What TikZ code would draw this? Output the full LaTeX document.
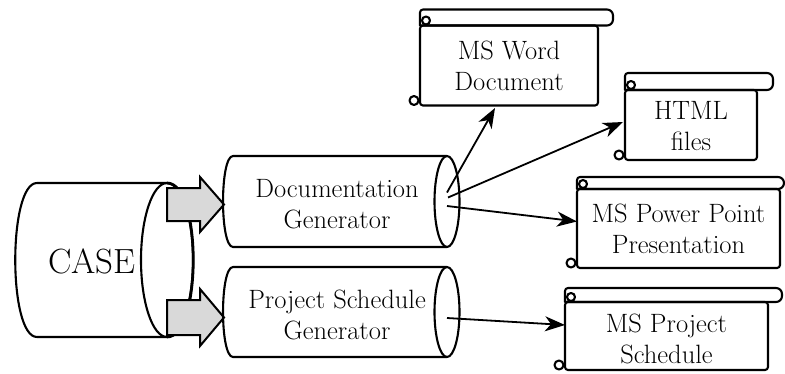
\documentclass[tikz,border=0pt]{standalone}
\usetikzlibrary{calc,arrows.meta}
\tikzset{
  outline/.style={line width=2.1pt, line join=round},
  txt/.style={align=center, font=\fontsize{26.5}{31}\selectfont, inner sep=0pt},
  docbody/.style={outline, draw, rounded corners=3pt, outer sep=0pt, inner sep=0pt,
                  align=center, font=\fontsize{26.5}{31}\selectfont},
  conn/.style={line width=1.8pt, -{Stealth[length=20pt,width=15pt,inset=6pt]}},
  blockarrow/.style={line width=2pt, draw=black, fill=gray!30, line join=miter},
}
% name, band height (px), right extension of the band (px)
\newcommand\scrollparts[3]{%
  \draw[outline] (#1.north west) [rounded corners=3pt] -- ($(#1.north west)+(0,-#2)$)
     [rounded corners=6pt] -- ($(#1.north east)+(#3,-#2)$) -- ($(#1.north east)+(#3,0)$)
     [sharp corners] -- (#1.north west) -- cycle;
  \draw[outline] ($(#1.north west)+(6,-5)$) circle[radius=4pt];
  \draw[outline] ($(#1.south west)+(-6,-5)$) circle[radius=4.5pt];
}
\newcommand\lowtext[2]{\raisebox{#1}[\height][\depth]{\begin{tabular}{@{}c@{}}#2\end{tabular}}}
\begin{document}
\begin{tikzpicture}[x=1pt,y=-1pt]
\useasboundingbox (0,0) rectangle (785,373);
\fill[white] (0,0) rectangle (785,373);

% CASE cylinder
\draw[outline] (167,183) -- (37,183) .. controls (8,183) and (8,337) .. (37,337) -- (167,337);
\draw[outline] (167,260) ellipse[x radius=26pt, y radius=77pt];
\draw[line width=2.8pt] (167,183) .. controls (202,183) and (202,337) .. (167,337);
\node[font=\fontsize{35}{40}\selectfont, inner sep=0pt] (case) at (92,261) {CASE};

% block arrows
\draw[blockarrow] (167,188) -- (200,188) -- (200,177) -- (224,204.5) -- (200,232) -- (200,221) -- (167,221) -- cycle;
\draw[blockarrow] (167,300) -- (200,300) -- (200,289) -- (224,317.5) -- (200,346) -- (200,335) -- (167,335) -- cycle;

% Documentation generator
\draw[outline] (447,156) -- (233,156) .. controls (219.7,156) and (219.7,247) .. (233,247) -- (447,247);
\draw[outline] (447,201.5) ellipse[x radius=12.5pt, y radius=45.5pt];
\coordinate (docR) at (447,201.5);
\node[txt] (docgen) at (337,204) {Documentation\\Generator};

% Project schedule generator
\draw[outline] (447,267) -- (233,267) .. controls (219.7,267) and (219.7,357) .. (233,357) -- (447,357);
\draw[outline] (447,312) ellipse[x radius=12.5pt, y radius=45pt];
\coordinate (projR) at (447,312);
\node[txt] (projgen) at (337,315) {Project Schedule\\Generator};

% documents
\node[docbody, minimum width=178pt, minimum height=80pt] (word) at (509,65.5) {MS Word\\Document};
\scrollparts{word}{16}{15}
\node[docbody, minimum width=132pt, minimum height=70pt] (html) at (691,125) {\lowtext{-4pt}{HTML\\files}};
\scrollparts{html}{17}{16}
\node[docbody, minimum width=203pt, minimum height=79pt] (pp) at (678.5,228.5) {MS Power Point\\Presentation};
\scrollparts{pp}{12}{4}
\node[docbody, minimum width=203pt, minimum height=68pt] (proj) at (666.5,336) {\lowtext{-6pt}{MS Project\\Schedule}};
\scrollparts{proj}{14}{14}

% connectors
\draw[conn] ($(docR)+(0,-9)$) -- ($(word.south)+(-14,2.5)$);
\draw[conn] ($(docR)+(1,-4)$) -- ($(html.west)+(-2,-3)$);
\draw[conn] ($(docR)+(0,4.5)$) -- ($(pp.west)+(0,-7)$);
\draw[conn] ($(projR)+(0,6)$) -- ($(proj.west)+(0,-11)$);
\end{tikzpicture}
\end{document}
